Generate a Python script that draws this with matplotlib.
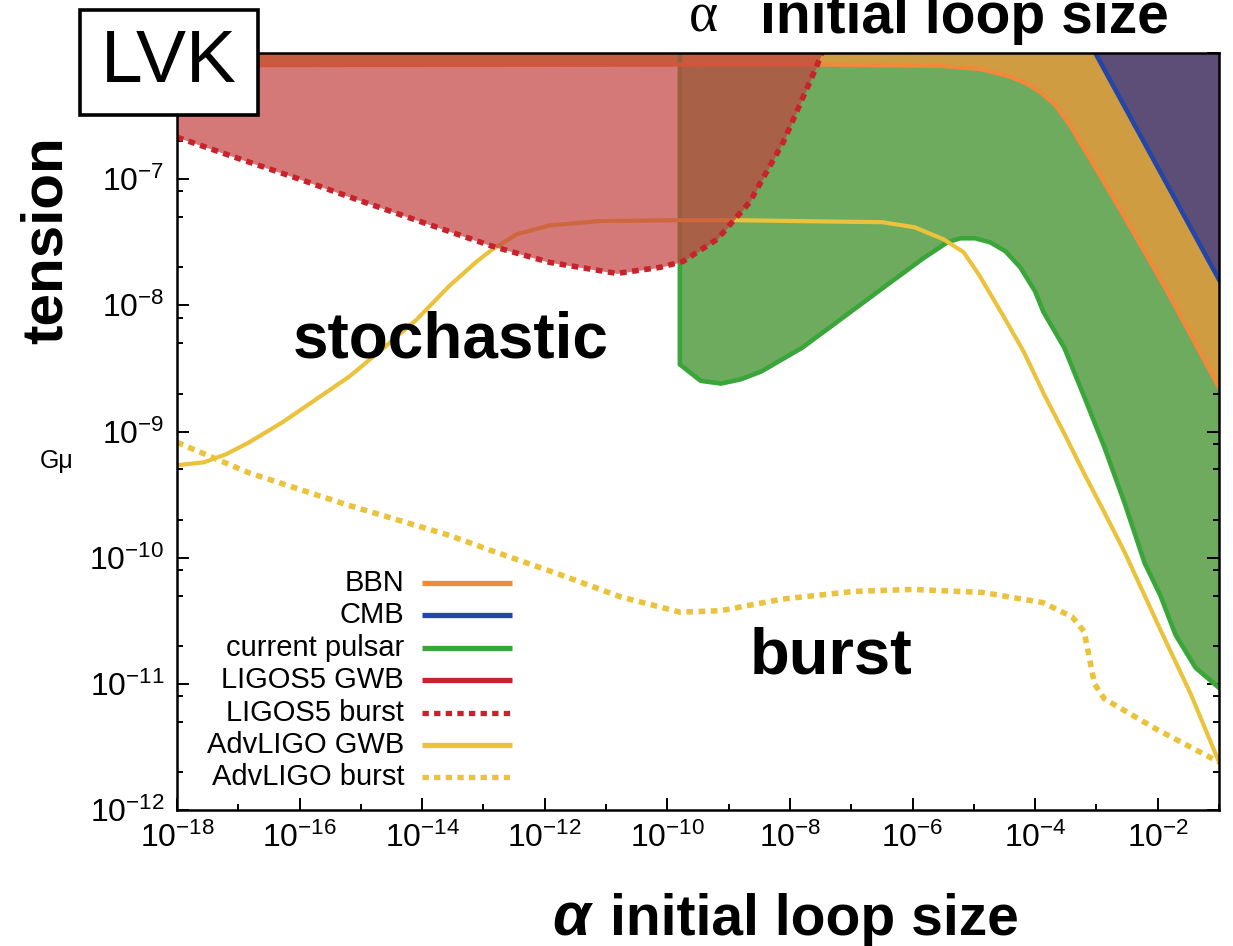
import matplotlib
matplotlib.use("Agg")
import matplotlib.pyplot as plt
from matplotlib.lines import Line2D
from matplotlib.patches import Rectangle
from matplotlib.ticker import LogLocator, FuncFormatter, NullFormatter
import numpy as np

plt.rcParams['mathtext.fontset'] = 'custom'
plt.rcParams['mathtext.rm'] = 'Liberation Sans'
plt.rcParams['mathtext.default'] = 'regular'
plt.rcParams['font.family'] = ['Liberation Sans', 'DejaVu Sans']

# ---------------- data ----------------
# LIGO S5 burst bound (red dotted); region above it is excluded
alpha_s5_burst = [1e-18, 1.0e-17, 1e-16, 9.3e-16, 8.9e-15, 1.4e-13, 1.2e-12,
                  1.5e-11, 7.6e-11, 1.8e-10, 6.5e-10, 2.2e-9, 7.8e-9, 2.75e-8, 3.3e-8]
gmu_s5_burst = [2.15e-7, 1.46e-7, 1.0e-7, 6.8e-8, 4.65e-8, 2.94e-8, 2.19e-8,
                1.79e-8, 2.0e-8, 2.23e-8, 3.34e-8, 6.56e-8, 1.97e-7, 7.9e-7, 1.0e-6]

# Advanced LIGO stochastic (GWB) sensitivity (yellow solid)
alpha_adv_gwb = [1e-18, 2.75e-18, 6.3e-18, 1.5e-17, 5.2e-17, 1.86e-16, 6.5e-16,
                 2.24e-15, 8.1e-15, 2.75e-14, 7.8e-14, 1.4e-13, 3.5e-13, 1.2e-12,
                 7.9e-12, 1.6e-10, 1.35e-9, 1.45e-8, 3.2e-7, 1.07e-6, 3.2e-6,
                 6.8e-6, 1.23e-5, 3.0e-5, 6.5e-5, 1.4e-4, 3.0e-4, 6.3e-4, 1.35e-3,
                 2.9e-3, 1.1e-2, 3.5e-2, 1e-1]
gmu_adv_gwb = [5.4e-10, 5.7e-10, 6.6e-10, 8.2e-10, 1.18e-9, 1.8e-9, 2.73e-9,
               4.5e-9, 7.7e-9, 1.42e-8, 2.23e-8, 2.78e-8, 3.66e-8, 4.3e-8,
               4.65e-8, 4.73e-8, 4.73e-8, 4.65e-8, 4.56e-8, 4.16e-8, 3.34e-8,
               2.64e-8, 1.73e-8, 8.3e-9, 4.3e-9, 1.97e-9, 9.6e-10, 4.65e-10,
               2.28e-10, 1.1e-10, 2.7e-11, 8.2e-12, 2.4e-12]

# Advanced LIGO burst sensitivity (yellow dotted)
alpha_adv_burst = [1e-18, 1.5e-17, 6.3e-16, 2.8e-14, 1.4e-13, 1.7e-12, 1.7e-11,
                   1.6e-10, 7.4e-10, 7.6e-9, 1.1e-7, 1.0e-6, 1.4e-5, 1.35e-4,
                   4.0e-4, 6.3e-4, 9.3e-4, 1.35e-3, 9.3e-3, 1e-1]
gmu_adv_burst = [8.2e-10, 4.7e-10, 2.6e-10, 1.5e-10, 1.13e-10, 7.4e-11, 4.9e-11,
                 3.7e-11, 3.8e-11, 4.7e-11, 5.4e-11, 5.6e-11, 5.3e-11, 4.4e-11,
                 3.4e-11, 2.6e-11, 1.0e-11, 7.6e-12, 4.4e-12, 2.4e-12]

# current pulsar bound (green); region above it is excluded
alpha_pulsar = [1.6e-10, 1.6e-10, 3.5e-10, 7.5e-10, 1.58e-9, 3.4e-9, 1.57e-8,
                7.1e-8, 3.2e-7, 1.5e-6, 3.7e-6, 6.0e-6, 1.05e-5, 1.85e-5, 3.26e-5,
                5.73e-5, 1.0e-4, 1.36e-4, 3.0e-4, 6.4e-4, 1.35e-3, 2.9e-3,
                6.1e-3, 1.11e-2, 1.95e-2, 4.15e-2, 1e-1]
gmu_pulsar = [1e-6, 3.4e-9, 2.52e-9, 2.4e-9, 2.59e-9, 2.99e-9, 4.6e-9,
              7.9e-9, 1.36e-8, 2.36e-8, 3.16e-8, 3.4e-8, 3.4e-8, 3.16e-8, 2.69e-8,
              2.0e-8, 1.29e-8, 8.9e-9, 4.6e-9, 1.86e-9, 7.5e-10, 2.69e-10,
              9.1e-11, 4.99e-11, 2.45e-11, 1.34e-11, 9.3e-12]

# BBN bound (orange)
alpha_bbn = [1e-18, 3.1e-8, 2.82e-6, 1.27e-5, 2.7e-5, 3.94e-5, 6.9e-5, 1.22e-4,
             2.14e-4, 3.76e-4, 6.6e-4, 1.16e-3, 4.0e-3, 1.45e-2, 1e-1]
gmu_bbn = [8.0e-7, 8.1e-7, 7.9e-7, 7.46e-7, 6.8e-7, 6.46e-7, 5.78e-7, 4.9e-7,
           3.86e-7, 2.64e-7, 1.67e-7, 1.06e-7, 3.8e-8, 1.27e-8, 2.23e-9]

# CMB bound (blue)
alpha_cmb = [9.6e-4, 1e-1]
gmu_cmb = [1.0e-6, 1.6e-8]

xticks = [1e-18, 1e-16, 1e-14, 1e-12, 1e-10, 1e-8, 1e-6, 1e-4, 1e-2]

legend_labels = ['BBN', 'CMB', 'current pulsar', 'LIGOS5 GWB', 'LIGOS5 burst',
                 'AdvLIGO GWB', 'AdvLIGO burst']

# ---------------- colours ----------------
c_bbn = '#f08a3a'
c_bbn_fill = '#d09c42'
c_cmb = '#2446a6'
c_cmb_fill = '#5c4e76'
c_green = '#3aa63a'
c_green_fill = '#6eab5f'
c_red = '#c8222c'
c_red_fill = '#c2413e'
c_yellow = '#ebc23c'
dots = (0, (1.2, 1.0))

W, H = 1233, 946
fig = plt.figure(figsize=(W / 100, H / 100), dpi=100)
L, R, T, B = 177, 1219, 53, 810
ax = fig.add_axes([L / W, 1 - B / H, (R - L) / W, (B - T) / H])
ax.set_xscale('log')
ax.set_yscale('log')
ymin, ymax = 1e-12, 1e-6
ax.set_xlim(1e-18, 1e-1)
ax.set_ylim(ymin, ymax)

# fills
ax.fill_between(alpha_pulsar, gmu_pulsar, ymax, color=c_green_fill, lw=0, zorder=1)
ax.fill_between(alpha_bbn, gmu_bbn, ymax, color=c_bbn_fill, lw=0, zorder=2)
ax.fill_between(alpha_cmb, gmu_cmb, ymax, color=c_cmb_fill, lw=0, zorder=3)

# lines
ax.plot(alpha_pulsar, gmu_pulsar, color=c_green, lw=3.3, zorder=4, solid_joinstyle='round')
ax.plot(alpha_bbn, gmu_bbn, color=c_bbn, lw=3.0, zorder=4, solid_joinstyle='round')
ax.plot(alpha_cmb, gmu_cmb, color=c_cmb, lw=3.3, zorder=4)
ax.plot(alpha_adv_gwb, gmu_adv_gwb, color=c_yellow, lw=3.0, zorder=5, solid_joinstyle='round')
ax.plot(alpha_adv_burst, gmu_adv_burst, color=c_yellow, lw=4.0, ls=dots,
        dash_capstyle='butt', zorder=5)

# LIGO S5 excluded region (translucent red) and burst line
ax.fill_between(alpha_s5_burst, gmu_s5_burst, ymax, color=c_red_fill, alpha=0.7, lw=0, zorder=6)
ax.plot(alpha_s5_burst, gmu_s5_burst, color=c_red, lw=4.0, ls=dots,
        dash_capstyle='butt', zorder=7)

# axes styling
for s in ax.spines.values():
    s.set_linewidth(1.8)
    s.set_zorder(10)
ax.set_xticks(xticks)
ax.xaxis.set_minor_locator(LogLocator(base=10, subs=(1.0,), numticks=40))
ax.yaxis.set_major_locator(LogLocator(base=10, subs=(1.0,), numticks=20))
ax.yaxis.set_minor_locator(LogLocator(base=10, subs=(2.0, 5.0, 8.0), numticks=20))
fmt = FuncFormatter(lambda v, p: r'$\mathregular{10^{%d}}$' % int(round(np.log10(v))))
ax.xaxis.set_major_formatter(fmt)
ax.yaxis.set_major_formatter(fmt)
ax.xaxis.set_minor_formatter(NullFormatter())
ax.yaxis.set_minor_formatter(NullFormatter())
ax.tick_params(which='both', direction='in', top=True, right=True, labelsize=23, width=1.4)
ax.tick_params(which='major', length=8.5)
ax.tick_params(which='minor', length=4.5)
ax.tick_params(axis='x', pad=9)
ax.tick_params(axis='y', pad=9)

# legend (drawn manually, right-aligned labels with samples on right)
styles = [(c_bbn, '-'), (c_cmb, '-'), (c_green, '-'), (c_red, '-'),
          (c_red, dots), (c_yellow, '-'), (c_yellow, dots)]
for i, (lab, (col, ls)) in enumerate(zip(legend_labels, styles)):
    yp = 583 + i * 32.4
    fig.text(404 / W, 1 - yp / H, lab, ha='right', va='center', fontsize=21, zorder=12)
    fig.add_artist(Line2D([422 / W, 512 / W], [1 - yp / H] * 2, color=col, lw=3.8,
                          ls=ls, dash_capstyle='butt', solid_capstyle='butt', zorder=12))

# annotations
big = dict(family=['Liberation Sans', 'DejaVu Sans'], weight='bold')
fig.text(451 / W, 1 - 341 / H, 'stochastic', ha='center', va='center', fontsize=46, **big)
fig.text(831 / W, 1 - 656 / H, 'burst', ha='center', va='center', fontsize=47, **big)
fig.text(47 / W, 1 - 240 / H, 'tension', ha='center', va='center', rotation=90, fontsize=42, **big)
fig.text(57 / W, 1 - 461 / H, 'Gμ', ha='center', va='center', fontsize=18,
         family=['Liberation Sans', 'DejaVu Sans'])

# bottom x label
fig.text(571 / W, 1 - 935 / H, 'α', ha='center', va='baseline', fontsize=44,
         style='italic', weight='bold', family=['Liberation Sans', 'DejaVu Sans'])
fig.text(610 / W, 1 - 935 / H, 'initial loop size', ha='left', va='baseline', fontsize=41, **big)
# top (cropped) label
fig.text(703 / W, 1 - 31 / H, 'α', ha='center', va='baseline', fontsize=40,
         family=['Liberation Serif', 'DejaVu Serif'])
fig.text(760 / W, 1 - 33 / H, 'initial loop size', ha='left', va='baseline', fontsize=41, **big)

# LVK box
fig.add_artist(Rectangle((80 / W, 1 - 115 / H), 178 / W, 105 / H, transform=fig.transFigure,
                         facecolor='white', edgecolor='black', lw=2.6, zorder=20))
fig.text(169 / W, 1 - 63 / H, 'LVK', ha='center', va='center', fontsize=54, zorder=21)

fig.savefig('out.png', dpi=100)
